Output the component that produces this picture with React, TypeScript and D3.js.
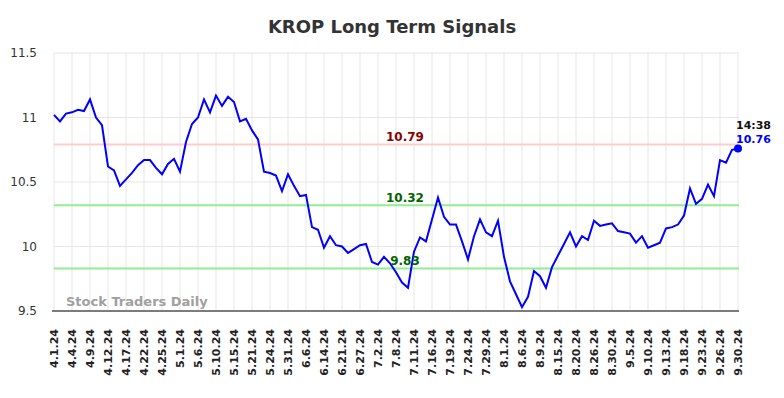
import React from "react";
import * as d3 from "d3";

const TITLE = "KROP Long Term Signals";
const tickLabels = [
  "4.1.24","4.4.24","4.9.24","4.12.24","4.17.24","4.22.24","4.25.24","5.1.24","5.6.24","5.10.24",
  "5.15.24","5.21.24","5.24.24","5.31.24","6.6.24","6.14.24","6.21.24","6.27.24","7.2.24","7.8.24",
  "7.11.24","7.16.24","7.19.24","7.24.24","7.29.24","8.1.24","8.6.24","8.9.24","8.15.24","8.20.24",
  "8.26.24","8.30.24","9.5.24","9.10.24","9.13.24","9.18.24","9.23.24","9.26.24","9.30.24",
];
const prices = [
  11.02,10.97,11.03,11.04,11.06,11.05,11.14,11.0,10.94,10.62,
  10.59,10.47,10.52,10.57,10.63,10.67,10.67,10.61,10.56,10.64,
  10.68,10.58,10.81,10.95,11.0,11.14,11.04,11.17,11.09,11.16,
  11.12,10.97,10.99,10.9,10.83,10.58,10.57,10.55,10.43,10.56,
  10.47,10.39,10.4,10.15,10.13,9.99,10.08,10.01,10.0,9.95,
  9.98,10.01,10.02,9.88,9.86,9.92,9.87,9.8,9.72,9.68,
  9.96,10.07,10.04,10.21,10.38,10.23,10.17,10.17,10.04,9.9,
  10.08,10.21,10.11,10.08,10.2,9.92,9.73,9.63,9.53,9.61,
  9.81,9.77,9.68,9.84,9.93,10.02,10.11,10.0,10.08,10.05,
  10.2,10.16,10.17,10.18,10.12,10.11,10.1,10.03,10.08,9.99,
  10.01,10.03,10.14,10.15,10.17,10.24,10.45,10.33,10.37,10.48,
  10.39,10.67,10.65,10.75,10.76,
];
const yTicks = [9.5, 10, 10.5, 11, 11.5];
const resistance = 10.79;
const supports = [10.32, 9.83];
const lastTime = "14:38";
const WATERMARK = "Stock Traders Daily";

export default function App() {
  const W = 784, H = 398;
  const left = 54, right = 738, top = 53, bottom = 311;
  const n = prices.length;
  const x = d3.scaleLinear().domain([0, n - 1]).range([left, right]);
  const y = d3.scaleLinear().domain([9.5, 11.5]).range([bottom, top]);
  const step = (n - 1) / (tickLabels.length - 1);
  const line = d3.line<number>().x((_, i) => x(i)).y((d) => y(d));
  const last = prices[n - 1];
  const font = "'DejaVu Sans', sans-serif";
  const levelX = 405;

  return (
    <svg width={W} height={H} style={{ position: "absolute", left: 0, top: 0, background: "#fff" }} fontFamily={font}>
      <text x={W / 2} y={33} textAnchor="middle" fontSize={18} fontWeight="bold" fill="#333">{TITLE}</text>
      {yTicks.map((t) => (
        <g key={t}>
          <line x1={left} x2={right + 1} y1={y(t)} y2={y(t)} stroke="#e6e6e6" strokeWidth={1} />
          <text x={37} y={y(t)} dy="0.35em" textAnchor="end" fontSize={12} fill="#333">{t}</text>
        </g>
      ))}
      {tickLabels.map((lab, k) => {
        const xi = x(k * step);
        return (
          <g key={lab}>
            <line x1={xi} x2={xi} y1={top} y2={bottom} stroke="#e6e6e6" strokeWidth={1} />
            <text transform={`translate(${xi + 4},329) rotate(-90)`} textAnchor="end" fontSize={11} fontWeight="bold" fill="#222">{lab}</text>
          </g>
        );
      })}
      <line x1={left - 2} x2={right + 1} y1={bottom} y2={bottom} stroke="#555" strokeWidth={1.5} />
      <line x1={left} x2={right + 1} y1={y(resistance)} y2={y(resistance)} stroke="#ffcccc" strokeWidth={2} />
      {supports.map((s) => (
        <line key={s} x1={left} x2={right + 1} y1={y(s)} y2={y(s)} stroke="#90ee90" strokeWidth={2} />
      ))}
      <text x={66} y={306} fontSize={13} fontWeight="bold" fill="#a0a0a0">{WATERMARK}</text>
      <path d={line(prices) || ""} fill="none" stroke="#0000ff" strokeWidth={2} />
      <text x={levelX} y={y(resistance) - 3.5} textAnchor="middle" fontSize={12} fontWeight="bold" fill="#8b0000">{resistance}</text>
      {supports.map((s) => (
        <text key={s} x={levelX} y={y(s) - 3.5} textAnchor="middle" fontSize={12} fontWeight="bold" fill="#006400">{s}</text>
      ))}
      <circle cx={x(n - 1)} cy={y(last)} r={4} fill="#0000ff" />
      <text x={736} y={129} fontSize={11} fontWeight="bold" fill="#111">{lastTime}</text>
      <text x={736} y={143} fontSize={11} fontWeight="bold" fill="#0000ff">{last}</text>
    </svg>
  );
}
